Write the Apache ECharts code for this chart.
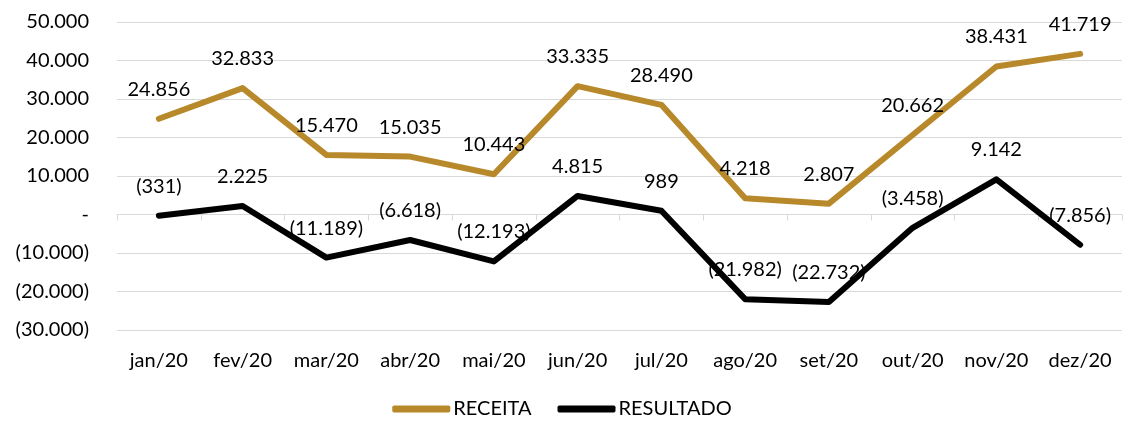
<!DOCTYPE html>
<html>
<head>
<meta charset="utf-8">
<script src="https://cdn.jsdelivr.net/npm/echarts@6/dist/echarts.min.js"></script>
<style>
  html, body { margin: 0; padding: 0; background: #fff; }
  #chart { width: 1124px; height: 424px; }
</style>
</head>
<body>
<div id="chart"></div>
<script>
const months = ['jan/20', 'fev/20', 'mar/20', 'abr/20', 'mai/20', 'jun/20', 'jul/20', 'ago/20', 'set/20', 'out/20', 'nov/20', 'dez/20'];
const receita = [24856, 32833, 15470, 15035, 10443, 33335, 28490, 4218, 2807, 20662, 38431, 41719];
const resultado = [-331, 2225, -11189, -6618, -12193, 4815, 989, -21982, -22732, -3458, 9142, -7856];

const FONT = 'Lato, "Open Sans", sans-serif';

// formato contábil: 12.345 / (12.345) / -
function fmt(v) {
  if (v === 0) return '-';
  const s = String(Math.abs(v)).replace(/\B(?=(\d{3})+(?!\d))/g, '.');
  return v < 0 ? '(' + s + ')' : s;
}

const chart = echarts.init(document.getElementById('chart'));

const lineSeries = (name, data, color) => ({
  name,
  type: 'line',
  data,
  symbol: 'circle',
  symbolSize: 1,
  itemStyle: { color },
  lineStyle: { color, width: 6, cap: 'round', join: 'round' },
  label: {
    show: true,
    position: 'top',
    distance: 19,
    color: '#000',
    fontFamily: FONT,
    fontSize: 20,
    formatter: (p) => fmt(p.value)
  },
  emphasis: { disabled: true },
  animation: false
});

chart.setOption({
  backgroundColor: '#fff',
  grid: { left: 117, right: 2, top: 22, bottom: 94 },
  legend: {
    bottom: 0,
    left: 'center',
    itemWidth: 58,
    itemHeight: 7,
    itemGap: 26,
    icon: 'roundRect',
    textStyle: { color: '#000', fontFamily: FONT, fontSize: 20, padding: [0, 0, 0, -2] },
    data: ['RECEITA', 'RESULTADO']
  },
  xAxis: [
    {
      type: 'category',
      data: months,
      position: 'bottom',
      axisLine: { show: false, onZero: false },
      axisTick: { show: false },
      axisLabel: { color: '#000', fontFamily: FONT, fontSize: 20, margin: 21, interval: 0 }
    },
    {
      type: 'category',
      data: months,
      position: 'bottom',
      axisLine: { show: true, onZero: true, lineStyle: { color: '#d9d9d9', width: 1 } },
      axisTick: { show: true, length: 6, interval: 0, lineStyle: { color: '#d9d9d9' } },
      axisLabel: { show: false }
    }
  ],
  yAxis: {
    type: 'value',
    min: -30000,
    max: 50000,
    interval: 10000,
    axisLine: { show: false },
    axisTick: { show: false },
    axisLabel: {
      color: '#000',
      fontFamily: FONT,
      fontSize: 20,
      margin: 28,
      formatter: fmt
    },
    splitLine: { lineStyle: { color: '#d9d9d9', width: 1 } }
  },
  series: [
    lineSeries('RECEITA', receita, '#b8892a'),
    lineSeries('RESULTADO', resultado, '#000000')
  ]
});
</script>
</body>
</html>
